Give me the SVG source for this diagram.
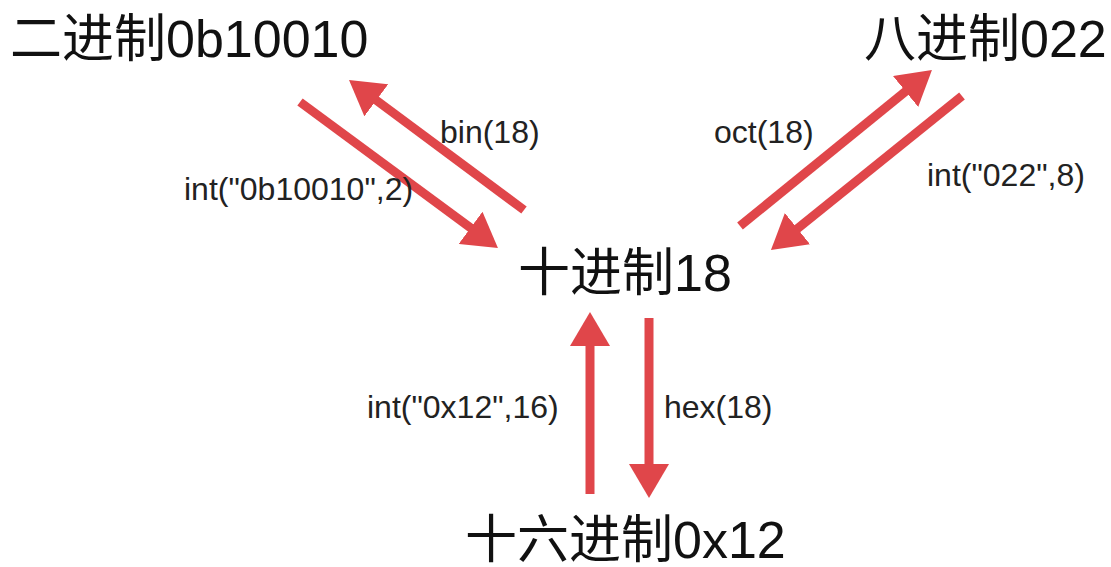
<svg xmlns="http://www.w3.org/2000/svg" width="1111" height="567" viewBox="0 0 1111 567">
<style>
.big{font-family:"Liberation Sans","Noto Sans CJK SC",sans-serif;font-size:52px;fill:#111}
.lbl{font-family:"Liberation Sans","Noto Sans CJK SC",sans-serif;font-size:32px;fill:#222}
.arr{stroke:#e0464a;stroke-width:9;fill:none;stroke-linecap:butt;marker-end:url(#head)}
</style>
<defs>
<marker id="head" markerUnits="userSpaceOnUse" viewBox="0 -20 34 40" refX="3" refY="0" markerWidth="34" markerHeight="40" orient="auto">
<path d="M0,-20 L34,0 L0,20 z" fill="#e0464a"/>
</marker>
</defs>
<rect width="1111" height="567" fill="#fff"/>
<g id="connectors">
<line class="arr" x1="300" y1="102" x2="473" y2="229.6"/>
<line class="arr" x1="524" y1="210" x2="373.9" y2="98.5"/>
<line class="arr" x1="740" y1="226" x2="907.9" y2="89.6"/>
<line class="arr" x1="962" y1="96" x2="795.1" y2="230.5"/>
<line class="arr" x1="590" y1="494" x2="590" y2="343"/>
<line class="arr" x1="649" y1="318" x2="649" y2="467"/>
<text class="lbl" x="440" y="143">bin(18)</text>
<text class="lbl" x="184" y="200">int("0b10010",2)</text>
<text class="lbl" x="714" y="143">oct(18)</text>
<text class="lbl" x="927" y="186">int("022",8)</text>
<text class="lbl" x="367" y="418">int("0x12",16)</text>
<text class="lbl" x="664" y="418">hex(18)</text>
</g>
<g id="bin"><text class="big" x="10" y="57">二进制0b10010</text></g>
<g id="oct"><text class="big" x="864" y="57">八进制022</text></g>
<g id="dec"><text class="big" x="518" y="291">十进制18</text></g>
<g id="hex"><text class="big" x="465" y="558">十六进制0x12</text></g>
</svg>
